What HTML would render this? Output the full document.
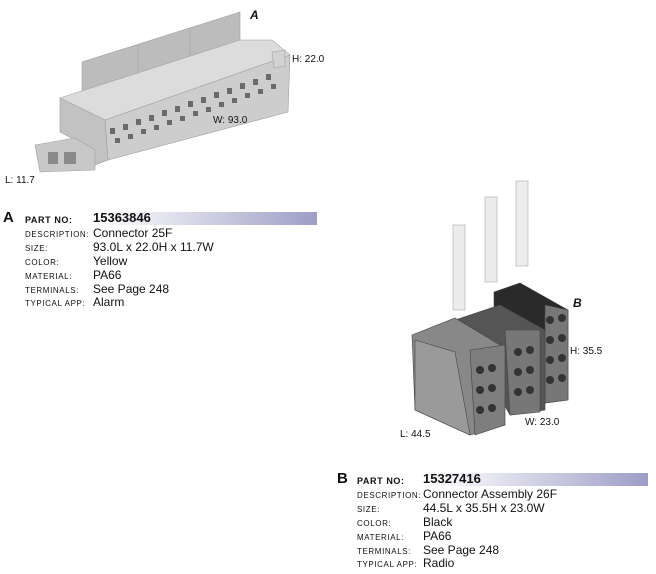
<!DOCTYPE html>
<html><head><style>
body{margin:0;width:656px;height:574px;background:#fff;position:relative;overflow:hidden;font-family:"Liberation Sans",sans-serif;color:#111}
.t{position:absolute;white-space:nowrap}
.lb{font-size:8px;letter-spacing:0.6px;text-transform:uppercase}
.v{font-size:12px}
.bar{position:absolute;height:13px;background:linear-gradient(90deg,#fff 0%,#e6e6f0 30%,#9d9dc6 100%)}
</style></head><body>
<svg width="656" height="574" style="position:absolute;left:0;top:0">
<!-- Connector A -->
<g stroke="#a0a0a0" stroke-width="0.6">
<polygon points="82,95 82,62 240,12 240,45" fill="#bcbcbc"/>
<line x1="138" y1="44" x2="138" y2="80"/><line x1="190" y1="28" x2="190" y2="62"/>
<polygon points="60,98 240,40 272,40 290,55 105,120" fill="#dcdcdc"/>
<polygon points="105,120 290,55 288,112 108,160" fill="#cdcdcd"/>
<polygon points="60,98 105,120 108,160 95,165 75,140 60,132" fill="#c2c2c2"/>
<polygon points="35,145 75,138 95,150 95,170 40,172" fill="#c8c8c8"/>
<polygon points="272,52 285,50 285,66 274,68" fill="#d2d2d2"/>
</g>
<g fill="#6a6a6a">
<rect x="110" y="128" width="5" height="6"/><rect x="123" y="124" width="5" height="6"/><rect x="136" y="119" width="5" height="6"/><rect x="149" y="115" width="5" height="6"/><rect x="162" y="110" width="5" height="6"/><rect x="175" y="106" width="5" height="6"/><rect x="188" y="101" width="5" height="6"/><rect x="201" y="97" width="5" height="6"/><rect x="214" y="92" width="5" height="6"/><rect x="227" y="88" width="5" height="6"/><rect x="240" y="83" width="5" height="6"/><rect x="253" y="79" width="5" height="6"/><rect x="266" y="74" width="5" height="6"/>
<rect x="115" y="138" width="5" height="5"/><rect x="128" y="134" width="5" height="5"/><rect x="141" y="129" width="5" height="5"/><rect x="154" y="125" width="5" height="5"/><rect x="167" y="120" width="5" height="5"/><rect x="180" y="116" width="5" height="5"/><rect x="193" y="111" width="5" height="5"/><rect x="206" y="107" width="5" height="5"/><rect x="219" y="102" width="5" height="5"/><rect x="232" y="98" width="5" height="5"/><rect x="245" y="93" width="5" height="5"/><rect x="258" y="89" width="5" height="5"/><rect x="271" y="84" width="5" height="5"/>
</g>
<rect x="48" y="152" width="10" height="12" fill="#8a8a8a"/>
<rect x="64" y="152" width="12" height="12" fill="#8a8a8a"/>
<!-- Connector B pins -->
<g fill="#ececec" stroke="#bdbdbd" stroke-width="0.8">
<rect x="453" y="225" width="12" height="85"/>
<rect x="485" y="197" width="12" height="85"/>
<rect x="516" y="181" width="12" height="85"/>
</g>
<!-- Connector B body -->
<g stroke="#444" stroke-width="0.6">
<polygon points="494,292 520,283 568,310 568,400 545,403 494,360" fill="#2a2a2a"/>
<polygon points="545,305 568,310 568,400 545,403" fill="#777"/>
<polygon points="455,320 500,305 545,330 545,410 510,415" fill="#555"/>
<polygon points="505,330 540,330 540,412 510,415" fill="#777"/>
<polygon points="412,335 455,318 500,345 505,425 470,435 415,410" fill="#888"/>
<polygon points="415,340 455,352 470,435 415,410" fill="#9a9a9a"/>
<polygon points="470,350 505,345 505,425 475,435" fill="#7e7e7e"/>
</g>
<g fill="#333">
<circle cx="480" cy="370" r="4"/><circle cx="492" cy="368" r="4"/><circle cx="480" cy="390" r="4"/><circle cx="492" cy="388" r="4"/><circle cx="480" cy="410" r="4"/><circle cx="492" cy="408" r="4"/>
<circle cx="518" cy="352" r="4"/><circle cx="530" cy="350" r="4"/><circle cx="518" cy="372" r="4"/><circle cx="530" cy="370" r="4"/><circle cx="518" cy="392" r="4"/><circle cx="530" cy="390" r="4"/>
<circle cx="550" cy="320" r="4"/><circle cx="562" cy="318" r="4"/><circle cx="550" cy="340" r="4"/><circle cx="562" cy="338" r="4"/><circle cx="550" cy="360" r="4"/><circle cx="562" cy="358" r="4"/><circle cx="550" cy="380" r="4"/><circle cx="562" cy="378" r="4"/>
</g>
</svg>
<div class="t" style="left:250px;top:8px;font-size:12px;font-weight:bold;font-style:italic">A</div>
<div class="t" style="left:292px;top:54px;font-size:10px">H: 22.0</div>
<div class="t" style="left:213px;top:115px;font-size:10px">W: 93.0</div>
<div class="t" style="left:5px;top:175px;font-size:10px">L: 11.7</div>
<div class="t" style="left:573px;top:296px;font-size:12px;font-weight:bold;font-style:italic">B</div>
<div class="t" style="left:570px;top:346px;font-size:10px">H: 35.5</div>
<div class="t" style="left:525px;top:417px;font-size:10px">W: 23.0</div>
<div class="t" style="left:400px;top:429px;font-size:10px">L: 44.5</div>

<div class="bar" style="left:92px;top:212px;width:225px"></div>
<div class="t" style="left:3px;top:209px;font-size:15px;font-weight:bold">A</div>
<div class="t lb" style="left:25px;top:215px;font-weight:bold;font-size:9px">PART NO:</div>
<div class="t" style="left:93px;top:210px;font-size:13px;font-weight:bold">15363846</div>
<div class="t lb" style="left:25px;top:230px">Description:</div><div class="t v" style="left:93px;top:226px">Connector 25F</div>
<div class="t lb" style="left:25px;top:244px">Size:</div><div class="t v" style="left:93px;top:240px">93.0L x 22.0H x 11.7W</div>
<div class="t lb" style="left:25px;top:258px">Color:</div><div class="t v" style="left:93px;top:254px">Yellow</div>
<div class="t lb" style="left:25px;top:272px">Material:</div><div class="t v" style="left:93px;top:268px">PA66</div>
<div class="t lb" style="left:25px;top:286px">Terminals:</div><div class="t v" style="left:93px;top:282px">See Page 248</div>
<div class="t lb" style="left:25px;top:299px">Typical App:</div><div class="t v" style="left:93px;top:295px">Alarm</div>

<div class="bar" style="left:422px;top:473px;width:226px"></div>
<div class="t" style="left:337px;top:470px;font-size:15px;font-weight:bold">B</div>
<div class="t lb" style="left:357px;top:476px;font-weight:bold;font-size:9px">PART NO:</div>
<div class="t" style="left:423px;top:471px;font-size:13px;font-weight:bold">15327416</div>
<div class="t lb" style="left:357px;top:491px">Description:</div><div class="t v" style="left:423px;top:487px">Connector Assembly 26F</div>
<div class="t lb" style="left:357px;top:505px">Size:</div><div class="t v" style="left:423px;top:501px">44.5L x 35.5H x 23.0W</div>
<div class="t lb" style="left:357px;top:519px">Color:</div><div class="t v" style="left:423px;top:515px">Black</div>
<div class="t lb" style="left:357px;top:533px">Material:</div><div class="t v" style="left:423px;top:529px">PA66</div>
<div class="t lb" style="left:357px;top:547px">Terminals:</div><div class="t v" style="left:423px;top:543px">See Page 248</div>
<div class="t lb" style="left:357px;top:560px">Typical App:</div><div class="t v" style="left:423px;top:556px">Radio</div>
</body></html>
